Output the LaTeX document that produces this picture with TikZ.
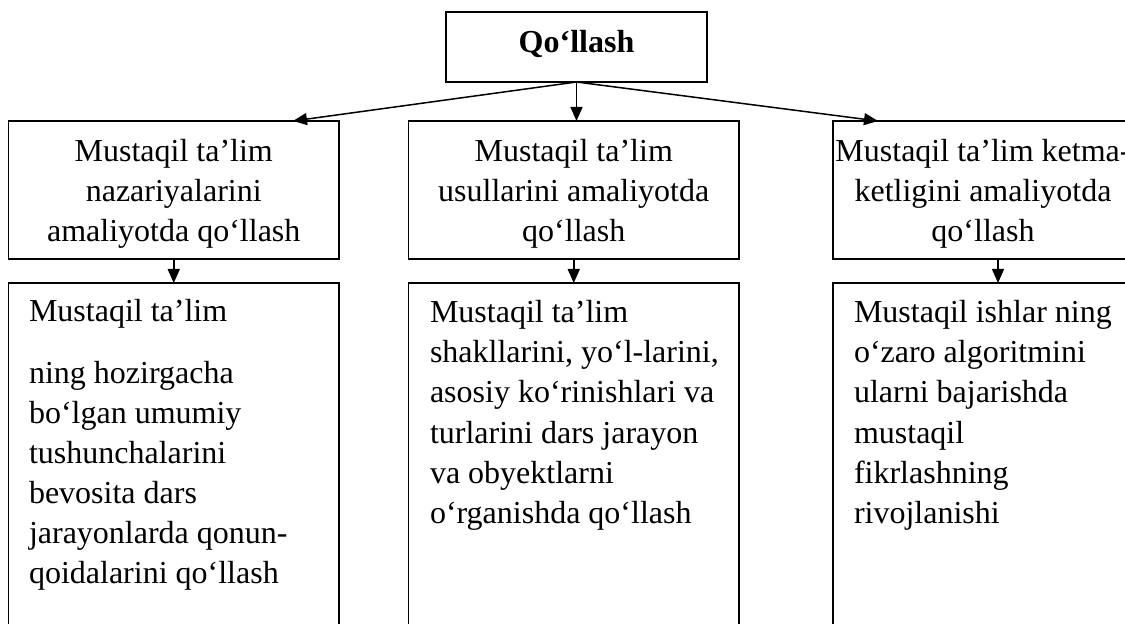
\documentclass[tikz,border=0pt]{standalone}
\usepackage{fontspec}
\setmainfont{Liberation Serif}
\usetikzlibrary{arrows.meta}
\begin{document}
\begin{tikzpicture}[x=0.4pt,y=-0.4pt,
  box/.style={draw, line width=0.65pt, inner sep=0pt, outer sep=0pt, rectangle},
  midbox/.style={box, minimum width=132.2pt, minimum height=55.2pt},
  lowbox/.style={box, minimum width=132.2pt, minimum height=158.8pt},
  txt/.style={font=\fontsize{12.8}{16}\selectfont, inner sep=0pt, outer sep=0pt},
  arr/.style={line width=0.6pt, -{Triangle[length=5.6pt,width=4.8pt]}}]
\useasboundingbox (0,0) rectangle (1125,624);
\clip (0,0) rectangle (1125,624);
% boxes
\node[box, minimum width=104.4pt, minimum height=28pt] (top) at (576.5,47) {};
\node[midbox] (m1) at (173.75,190) {};
\node[midbox] (m2) at (573.75,190) {};
\node[midbox] (m3) at (998,190) {};
\node[lowbox] (b1) at (173.75,481.5) {};
\node[lowbox] (b2) at (573.75,481.5) {};
\node[lowbox] (b3) at (998,481.5) {};
% texts
\node[txt, font=\fontsize{12.8}{16}\selectfont\bfseries, anchor=base] (ttop) at (576.5,53) {Qo‘llash};
\node[txt, align=center, anchor=north] (tm1) at (173.75,134) {\strut Mustaqil ta’lim\\nazariyalarini\\amaliyotda qo‘llash};
\node[txt, align=center, anchor=north] (tm2) at (573.75,134) {\strut Mustaqil ta’lim\\usullarini amaliyotda\\qo‘llash};
\node[txt, align=center, anchor=north] (tm3) at (983,134) {\strut Mustaqil ta’lim ketma-\\ketligini amaliyotda\\qo‘llash};
\node[txt, align=left, anchor=north west] (tb1) at (29,294) {\strut Mustaqil ta’lim\\[8.4pt]ning hozirgacha\\bo‘lgan umumiy\\tushunchalarini\\bevosita dars\\jarayonlarda qonun-\\qoidalarini qo‘llash};
\node[txt, align=left, anchor=north west] (tb2) at (430,295) {\strut Mustaqil ta’lim\\shakllarini, yo‘l-larini,\\asosiy ko‘rinishlari va\\turlarini dars jarayon\\va obyektlarni\\o‘rganishda qo‘llash};
\node[txt, align=left, anchor=north west] (tb3) at (854,295) {\strut Mustaqil ishlar ning\\o‘zaro algoritmini\\ularni bajarishda\\mustaqil\\fikrlashning\\rivojlanishi};
% connectors
\coordinate (c1) at (293,121);
\coordinate (c3) at (878,121);
\draw[arr] (top.south) -- (c1);
\draw[arr] (top.south) -- (top.south |- m2.north);
\draw[arr] (top.south) -- (c3);
\draw[arr] (m1.south) -- (b1.north);
\draw[arr] (m2.south) -- (b2.north);
\draw[arr] (m3.south) -- (b3.north);
\end{tikzpicture}
\end{document}
